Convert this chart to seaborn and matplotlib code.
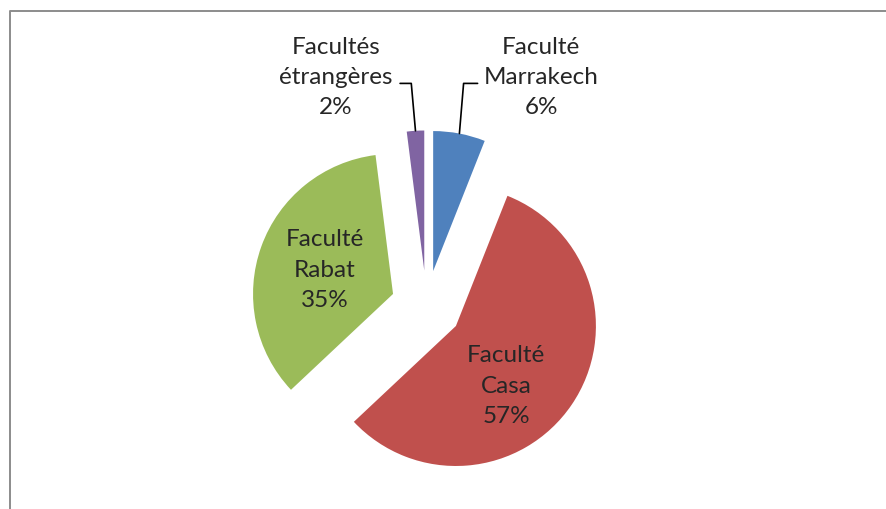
import numpy as np
import matplotlib
matplotlib.use("Agg")
import matplotlib.pyplot as plt
import seaborn as sns
from matplotlib.lines import Line2D

# data
facultes = ['Faculté\nMarrakech', 'Faculté\nCasa', 'Faculté\nRabat', 'Facultés\nétrangères']
parts = [6, 57, 35, 2]
couleurs = ['#4F81BD', '#C0504D', '#9BBB59', '#8064A2']

sns.set_style("white")
plt.rcParams['font.family'] = ['Lato', 'DejaVu Sans']

fig = plt.figure(figsize=(8.87, 5.10), dpi=100)
ax = fig.add_axes([0, 0, 1, 1])

explode = 0.254
wedges, _ = ax.pie(parts, explode=[explode] * len(parts), startangle=90,
                   counterclock=False, colors=couleurs, radius=1,
                   wedgeprops={'linewidth': 0})

# pie centre at (426.5, 307) px, radius 140 px
ax.set_xlim(-426.5 / 140, (887 - 426.5) / 140)
ax.set_ylim(-(510 - 307) / 140, 307 / 140)
ax.set_aspect('auto')
ax.axis('off')

# small label nudges (layout only) to mimic Excel placement
nudges = {'Faculté\nCasa': (-0.07, -0.13)}

fs = 17.5
ls = 1.55
total = sum(parts)
for w, nom, p in zip(wedges, facultes, parts):
    mid = np.deg2rad((w.theta1 + w.theta2) / 2)
    cx, cy = w.center
    label = f"{nom}\n{round(100 * p / total)}%"
    if p >= 10:
        # label inside the slice
        r = 0.52
        dx, dy = nudges.get(nom, (0, 0))
        ax.text(cx + r * np.cos(mid) + dx, cy + r * np.sin(mid) + dy, label,
                ha='center', va='center', fontsize=fs, linespacing=ls)
    else:
        # outside label with elbow leader line
        x0, y0 = cx + np.cos(mid), cy + np.sin(mid)
        side = 1 if np.cos(mid) > 0 else -1
        ey = 1.59
        ex = x0 + side * 0.03
        hx = ex + side * (0.1 if side > 0 else 0.08)
        ax.plot([x0, ex, hx], [y0, ey, ey], color='black', lw=1.2)
        tx = 0.818 if side > 0 else -0.646
        ax.text(tx, 1.64, label, ha='center', va='center',
                fontsize=fs, linespacing=ls)

# chart frame (top and left edges visible in the crop)
fig.add_artist(Line2D([10 / 887, 10 / 887, 1], [0, 1 - 12 / 510, 1 - 12 / 510],
                      transform=fig.transFigure, color='#8c8c8c', lw=1.4))

fig.savefig('out.png', dpi=100)
